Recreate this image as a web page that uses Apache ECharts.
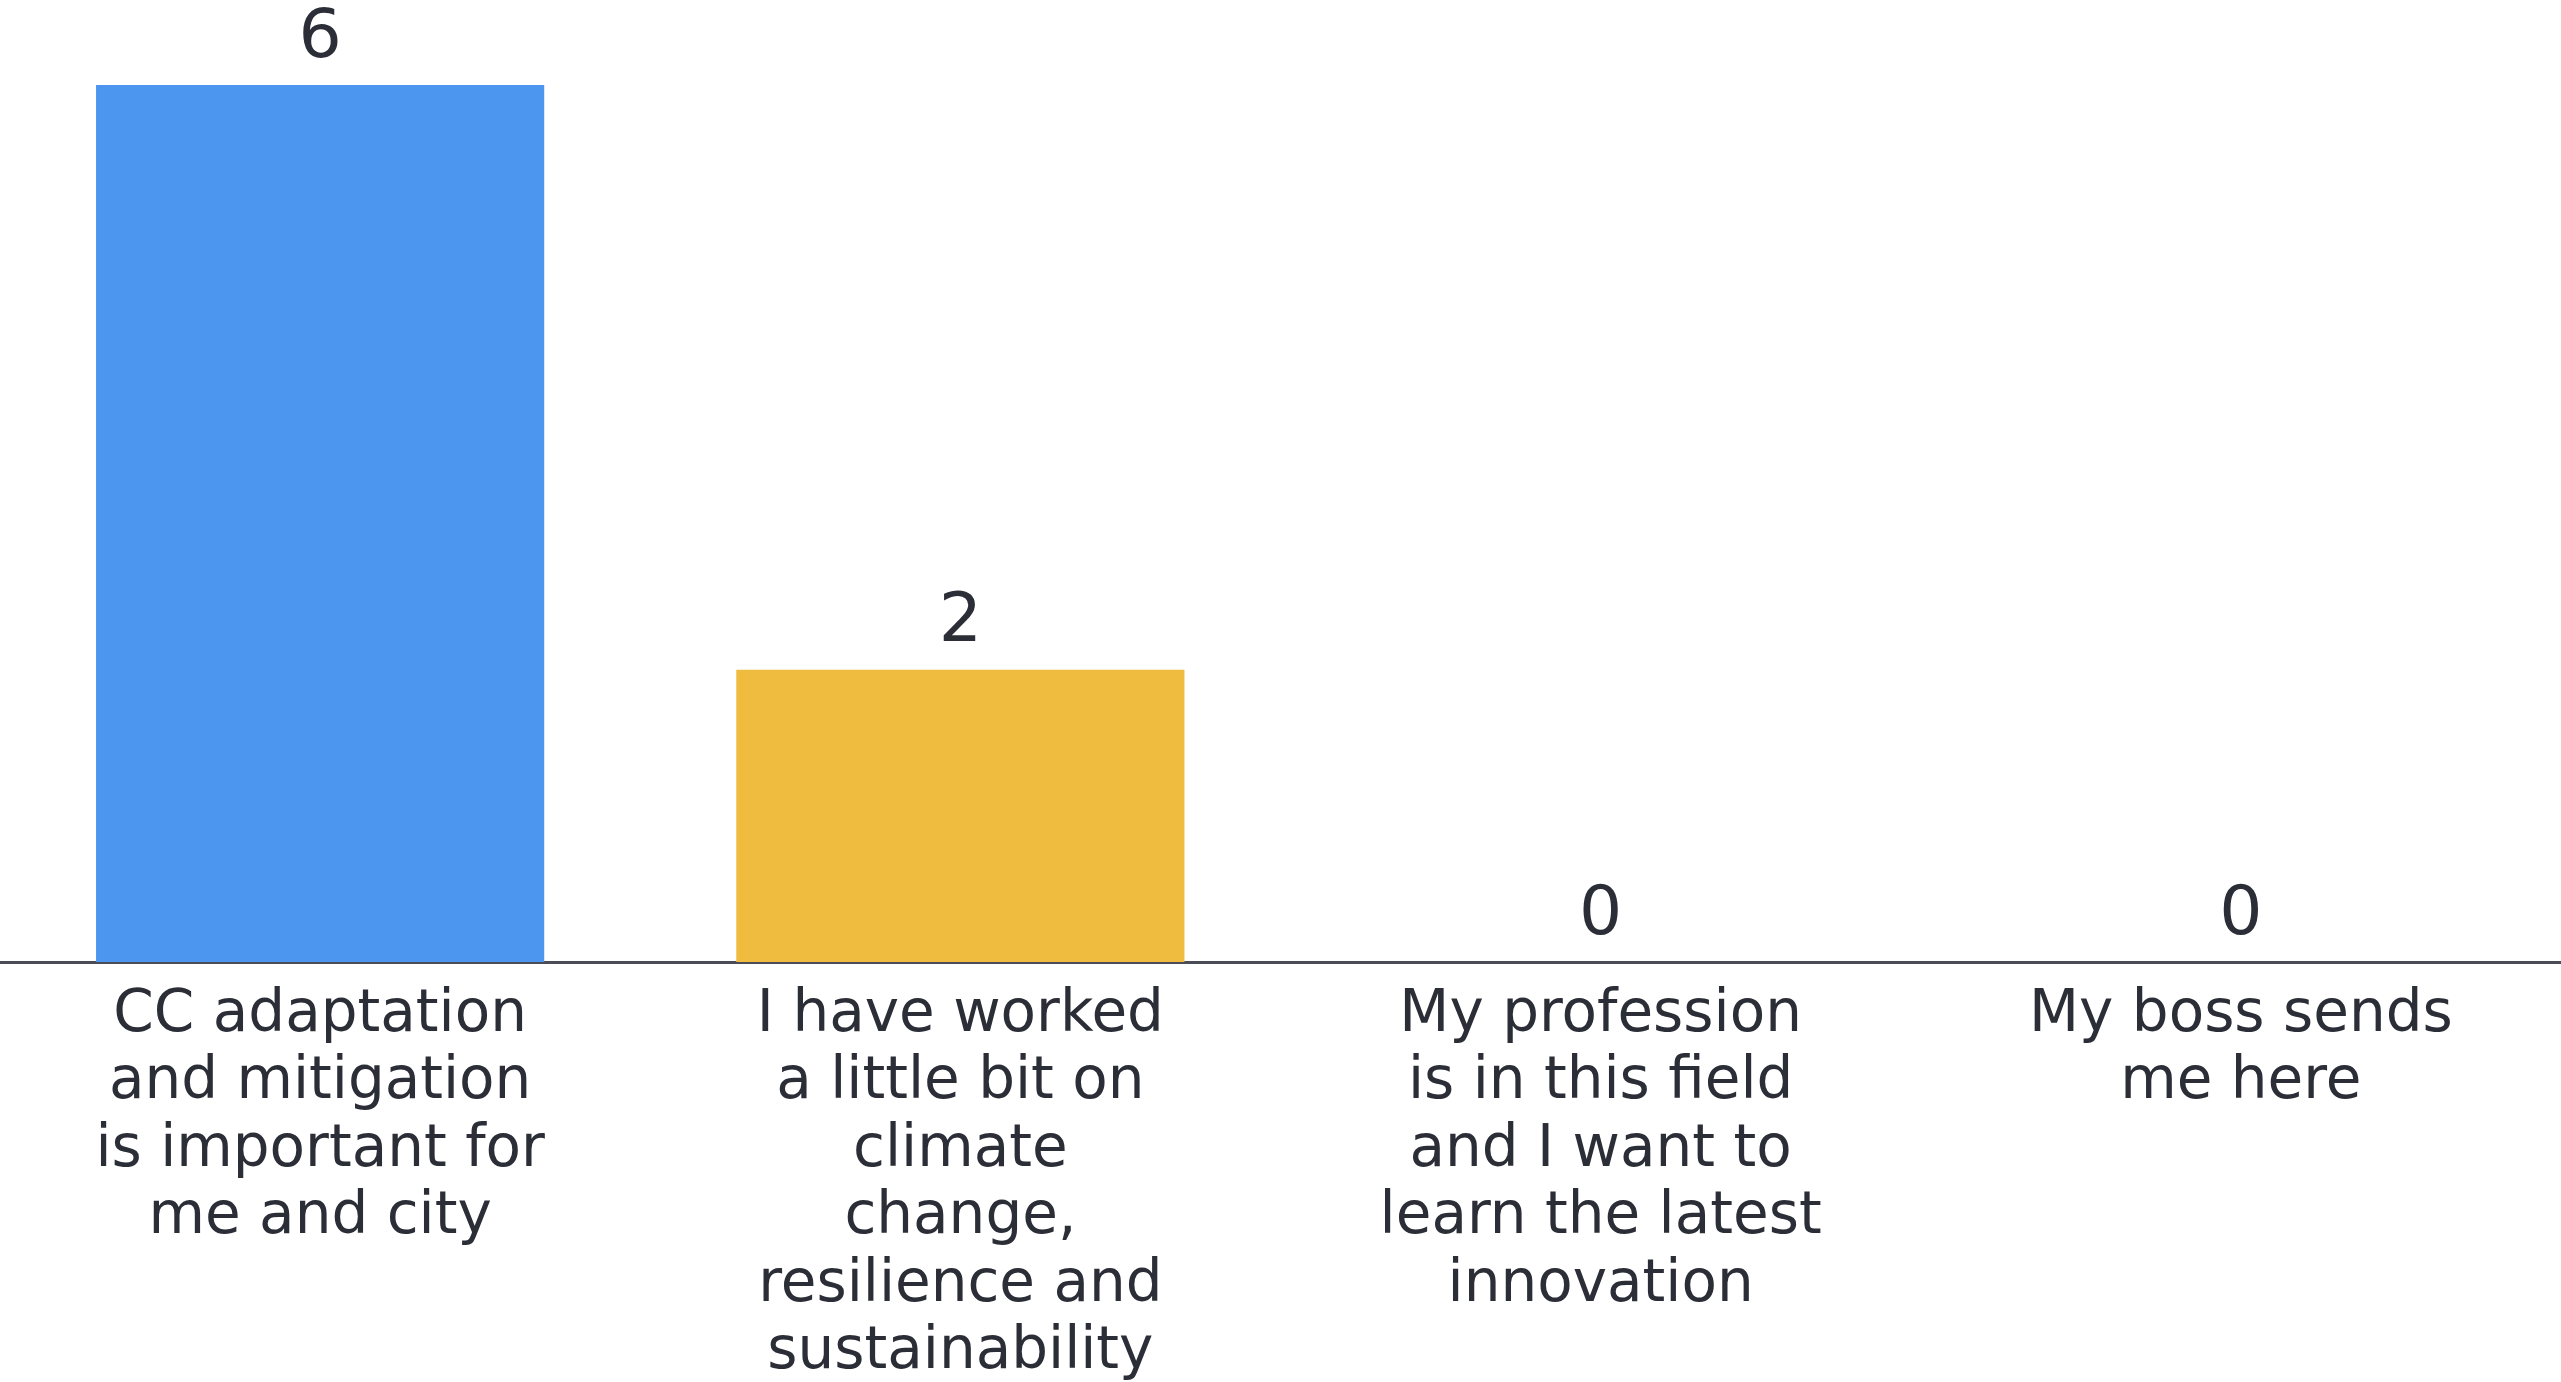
<!DOCTYPE html>
<html>
<head>
<meta charset="utf-8">
<script src="https://cdn.jsdelivr.net/npm/echarts@6/dist/echarts.min.js"></script>
<style>
html,body{margin:0;padding:0;background:#ffffff;}
#chart{width:2561px;height:1382px;}
</style>
</head>
<body>
<div id="chart"></div>
<script>
const categories = [
  "CC adaptation\nand mitigation\nis important for\nme and city",
  "I have worked\na little bit on\nclimate\nchange,\nresilience and\nsustainability",
  "My profession\nis in this field\nand I want to\nlearn the latest\ninnovation",
  "My boss sends\nme here"
];
const values = [6, 2, 0, 0];
const barColors = ["#4D96EF", "#F0BC3F", "#8E6CCF", "#E8615A"];

const chart = echarts.init(document.getElementById('chart'));
chart.setOption({
  animation: false,
  backgroundColor: '#ffffff',
  grid: { left: 0, right: 0, top: 85, bottom: 420, containLabel: false, outerBoundsMode: 'none' },
  xAxis: {
    type: 'category',
    data: categories,
    axisLine: { show: true, lineStyle: { color: '#4a4d55', width: 3 } },
    axisTick: { show: false },
    axisLabel: {
      interval: 0,
      margin: 20,
      fontFamily: 'DejaVu Sans',
      fontSize: 58,
      lineHeight: 67.5,
      color: '#2b2e36',
      align: 'center'
    }
  },
  yAxis: {
    type: 'value',
    min: 0,
    max: 6,
    show: false,
    splitLine: { show: false }
  },
  series: [{
    type: 'bar',
    data: values.map((v, i) => ({ value: v, itemStyle: { color: barColors[i] } })),
    barWidth: '70%',
    label: {
      show: true,
      position: 'top',
      distance: 12,
      fontFamily: 'DejaVu Sans',
      fontSize: 68,
      color: '#2b2e36'
    }
  }]
});
</script>
</body>
</html>
